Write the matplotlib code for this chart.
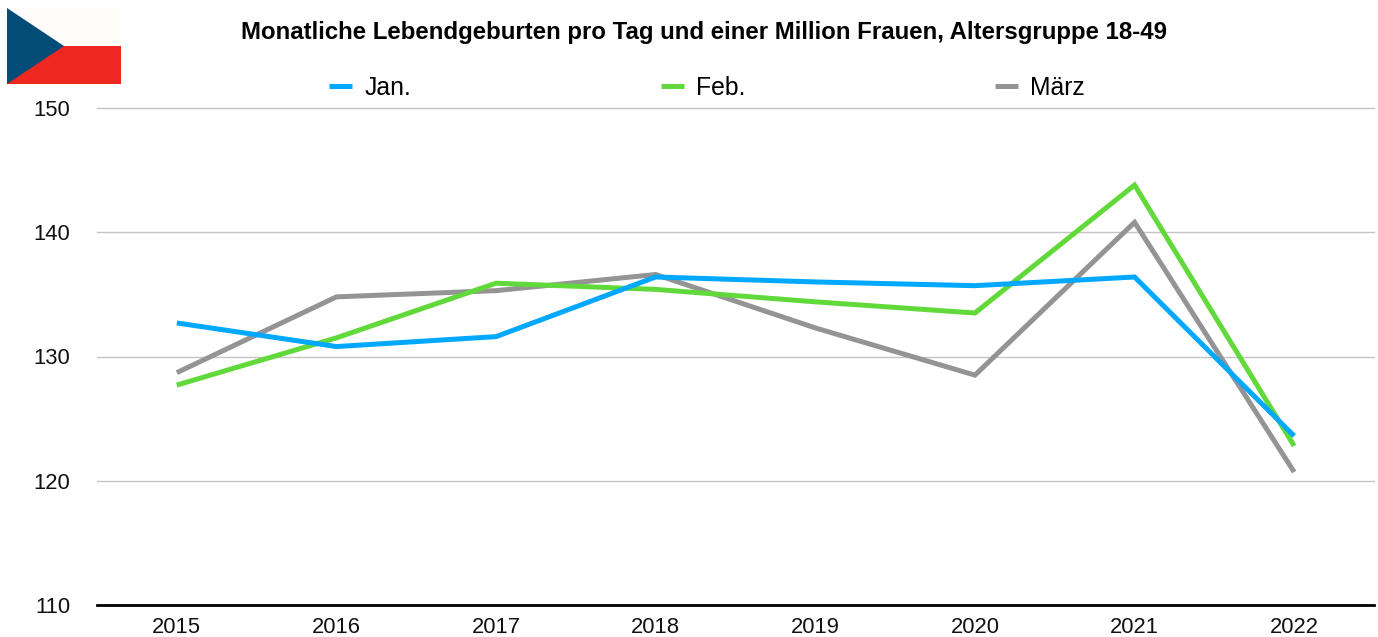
import matplotlib
matplotlib.use("Agg")
import matplotlib.pyplot as plt
from matplotlib.patches import Polygon, Rectangle

years = ["2015", "2016", "2017", "2018", "2019", "2020", "2021", "2022"]
jan = [132.7, 130.8, 131.6, 136.4, 136.0, 135.7, 136.4, 123.6]
feb = [127.7, 131.5, 135.9, 135.4, 134.4, 133.5, 143.8, 122.8]
mar = [128.7, 134.8, 135.3, 136.6, 132.3, 128.5, 140.8, 120.7]
yticks = [110, 120, 130, 140, 150]
title = "Monatliche Lebendgeburten pro Tag und einer Million Frauen, Altersgruppe 18-49"

W, H = 1378, 637
plt.rcParams["font.family"] = ["Liberation Sans", "DejaVu Sans"]
fig = plt.figure(figsize=(W / 100, H / 100), dpi=100)
ax = fig.add_axes([97 / W, 1 - 605 / H, (1374 - 97) / W, (605 - 108) / H])
x = range(len(years))
ax.plot(x, jan, color="#00A8FF", lw=3.6, label="Jan.", solid_capstyle="butt", solid_joinstyle="miter", zorder=5)
ax.plot(x, feb, color="#62D93A", lw=3.6, label="Feb.", solid_capstyle="butt", solid_joinstyle="miter", zorder=4)
ax.plot(x, mar, color="#949494", lw=3.6, label="März", solid_capstyle="butt", solid_joinstyle="miter", zorder=3)
ax.set_xlim(-0.5, 7.5)
ax.set_ylim(110, 150)
ax.set_xticks(list(x), years)
ax.set_yticks(yticks)
ax.tick_params(length=0, labelsize=15.8, colors="#111111", pad=8.5)
ax.tick_params(axis="y", pad=19)
ax.grid(axis="y", color="#C4C4C4", lw=1, clip_on=False)
for g in ax.get_ygridlines():
    g.set_clip_on(False)
for s in ["top", "left", "right"]:
    ax.spines[s].set_visible(False)
ax.spines["bottom"].set_linewidth(2)
ax.spines["bottom"].set_color("black")
ax.spines["bottom"].set_zorder(6)

fig.text(704 / W, 1 - 32 / H, title, ha="center", va="center", fontsize=17.3, fontweight="bold", color="black")

leg = fig.legend(loc="center left", bbox_to_anchor=(329 / W, 1 - 88 / H), ncol=3, frameon=False,
                 fontsize=17.8, handlelength=0.93, handletextpad=0.49, columnspacing=10.1,
                 borderpad=0, borderaxespad=0)

# Flag, figure pixel coordinates converted to figure fraction
def P(px, py):
    return (px / W, 1 - py / H)
fig.add_artist(Rectangle(P(7, 46), 114 / W, 38 / H, transform=fig.transFigure, color="#FFFDF9", lw=0))
fig.add_artist(Rectangle(P(7, 84), 114 / W, 38 / H, transform=fig.transFigure, color="#EF2723", lw=0))
fig.add_artist(Polygon([P(7, 8), P(64, 46), P(7, 84)], closed=True, transform=fig.transFigure, color="#034C78", lw=0))

fig.savefig("out.png", dpi=100)
